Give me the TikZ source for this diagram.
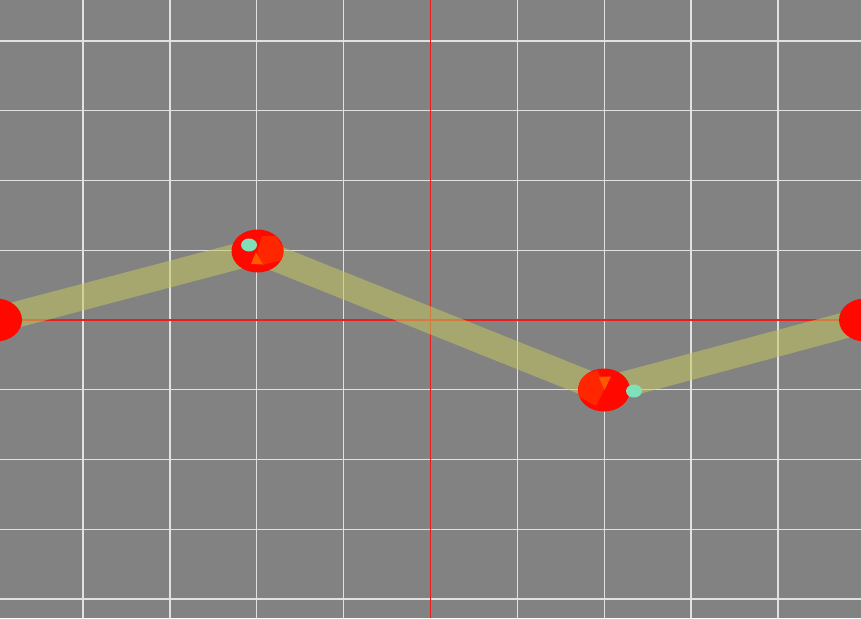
\documentclass[tikz,border=0pt]{standalone}
\usetikzlibrary{shapes.geometric}
\definecolor{bg}{RGB}{130,130,130}
\definecolor{gridc}{RGB}{225,225,225}
\definecolor{axisc}{RGB}{235,30,30}
\definecolor{bandc}{RGB}{196,196,96}
\definecolor{dotc}{RGB}{255,8,0}
\definecolor{shadec}{RGB}{255,38,0}
\definecolor{tric}{RGB}{255,90,0}
\definecolor{eyec}{RGB}{128,224,185}
\begin{document}
\begin{tikzpicture}[x=1pt,y=-1pt,
  gridline/.style={draw=gridc,line width=1.3pt},
  axisline/.style={draw=axisc,line width=1.4pt},
  band/.style={draw=bandc,opacity=0.55,line width=26pt,line join=round},
  dot/.style={ellipse,draw=none,fill=dotc,minimum width=52pt,minimum height=43pt,inner sep=0pt},
  shade/.style={fill=shadec},
  tri/.style={fill=tric},
  eye/.style={fill=eyec}]
\fill[bg] (0,0) rectangle (861,618);
\useasboundingbox (0,0) rectangle (861,618);
% grid
\foreach \k in {-4,...,4} {
  \draw[gridline] (430.5+86.875*\k,0) -- (430.5+86.875*\k,618);
  \draw[gridline] (0,320+69.75*\k) -- (861,320+69.75*\k);
}
\draw[axisline] (430.5,0) -- (430.5,618);
\draw[axisline] (0,320) -- (861,320);
% points
\coordinate (c0) at (-4,320);
\coordinate (c1) at (257.5,251);
\coordinate (c2) at (604,390);
\coordinate (c3) at (865,320);
\draw[band] (c0) -- (c1) -- (c2) -- (c3);
% dots
\node[dot] (p0) at (c0) {};
\node[dot] (p1) at (c1) {};
\node[dot] (p2) at (c2) {};
\node[dot] (p3) at (c3) {};
% node 1 details
\begin{scope}
  \clip (c1) ellipse [x radius=26, y radius=21.5];
  \fill[shade] (c1) -- (262,236) -- (276,236) -- (290,258) -- (262,265) -- cycle;
\end{scope}
\fill[tri] (256,252) -- (251,264) -- (263,264.5) -- cycle;
\fill[eye] (249,245) ellipse [x radius=8, y radius=6.5];
% node 2 details
\begin{scope}
  \clip (c2) ellipse [x radius=26, y radius=21.5];
  \fill[shade] (c2) -- (598,370) -- (580,376) -- (578,396) -- (596,406) -- cycle;
\end{scope}
\fill[tri] (598.5,376.5) -- (611,376.5) -- (604.5,390) -- cycle;
\fill[eye] (634,391) ellipse [x radius=8, y radius=6.5];
\end{tikzpicture}
\end{document}
